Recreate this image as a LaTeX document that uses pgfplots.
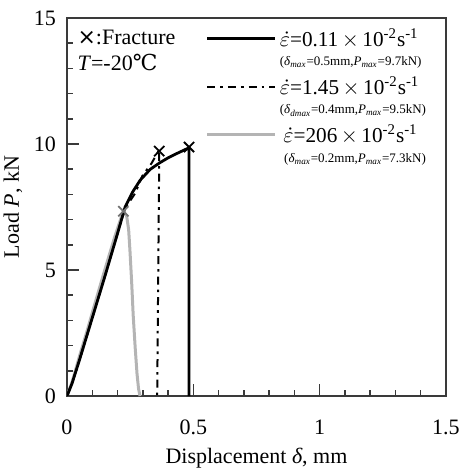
\documentclass[border=0pt]{standalone}
\usepackage{pgfplots}
\pgfplotsset{compat=1.18}
\usepackage{fontspec}
\setmainfont{Liberation Serif}
\newfontfamily\symfont{DejaVu Sans}
\newfontfamily\degfont{DejaVu Serif}

\definecolor{lightcurve}{HTML}{B4B4B4}
\definecolor{framecol}{HTML}{3A3A3A}

\newcommand{\mainfs}{\fontsize{11}{12}\selectfont}
\newcommand{\legfs}{\fontsize{10.6}{12}\selectfont}
\newcommand{\subfs}{\fontsize{6.5}{7.5}\selectfont}

\begin{document}
\begin{tikzpicture}
\begin{axis}[
  name=main,
  scale only axis, width=189.5pt, height=189pt,
  xmin=0, xmax=1.5, ymin=0, ymax=15,
  xtick={0,0.5,1,1.5}, ytick={0,5,10,15},
  minor xtick={0.1,0.2,0.3,0.4,0.6,0.7,0.8,0.9,1.1,1.2,1.3,1.4},
  minor ytick={1,2,3,4,6,7,8,9,11,12,13,14},
  tick align=inside, xtick pos=bottom, ytick pos=left,
  tickwidth=6pt, subtickwidth=3pt,
  axis line style={framecol, line width=0.75pt},
  major tick style={framecol, line width=0.75pt},
  minor tick style={framecol, line width=0.75pt},
  /pgf/number format/assume math mode=true,
  ticklabel style={font=\mainfs},
  xticklabel style={yshift=-8.5pt},
  yticklabel style={xshift=-2pt},
  label style={font=\mainfs},
  xlabel={Displacement \textit{δ}, mm},
  ylabel={Load \textit{P}, kN},
  xlabel style={yshift=0.5pt},
  ylabel style={yshift=-1pt},
  legend image code/.code={\draw[#1] (0pt,0pt) -- (34pt,0pt);},
  legend style={draw=none, fill=none, at={(axis cs:0.548,14.72)}, anchor=north west,
    font=\legfs, row sep=0.8pt, inner sep=0pt,
    nodes={inner sep=1.5pt}},
  legend cell align=left,
]
% legend rows: strain rate on the main line, peak values underneath
\addlegendimage{black, line width=1.4pt}
\addlegendentry{$\dot{\varepsilon}$=0.11\,$\times$\,10\textsuperscript{-2}s\textsuperscript{-1}}
\addlegendimage{empty legend}
\addlegendentry{\subfs(\textit{δ}\textsubscript{\textit{max}}=0.5mm,\textit{P}\textsubscript{\textit{max}}=9.7kN)}
\addlegendimage{black, line width=1pt, dash pattern=on 4pt off 2.5pt on 1.3pt off 2.5pt}
\addlegendentry{$\dot{\varepsilon}$=1.45\,$\times$\,10\textsuperscript{-2}s\textsuperscript{-1}}
\addlegendimage{empty legend}
\addlegendentry{\subfs(\textit{δ}\textsubscript{\textit{dmax}}=0.4mm,\textit{P}\textsubscript{\textit{max}}=9.5kN)}
\addlegendimage{lightcurve, line width=1.5pt}
\addlegendentry{\,$\dot{\varepsilon}$=206\,$\times$\,10\textsuperscript{-2}s\textsuperscript{-1}}
\addlegendimage{empty legend}
\addlegendentry{\subfs\,\,(\textit{δ}\textsubscript{\textit{max}}=0.2mm,\textit{P}\textsubscript{\textit{max}}=7.3kN)}

% 206 x 10^-2 /s
\addplot[forget plot, lightcurve, line width=1.5pt] coordinates {
 (0,0) (0.02,0.55) (0.05,1.6) (0.08,2.6) (0.104,3.44) (0.145,4.85) (0.19,6.35)
 (0.223,7.33) (0.236,7.15) (0.244,6.6) (0.249,5.8) (0.256,4.5) (0.262,3.2)
 (0.27,1.9) (0.277,0.9) (0.283,0.3) (0.289,0)
};
% 1.45 x 10^-2 /s
\addplot[forget plot, black, line width=1pt, dash pattern=on 4pt off 2.5pt on 1.3pt off 2.5pt] coordinates {
 (0,0) (0.02,0.5) (0.05,1.45) (0.1,3.1) (0.15,4.75) (0.2,6.45) (0.23,7.45)
 (0.25,7.75) (0.27,8.05) (0.298,8.73) (0.335,9.24) (0.365,9.77)
 (0.365,9.5) (0.357,0)
};
% 0.11 x 10^-2 /s
\addplot[forget plot, black, line width=1.4pt] coordinates {
 (0,0) (0.02,0.5) (0.05,1.45) (0.1,3.1) (0.15,4.75) (0.2,6.45) (0.23,7.5)
 (0.26,8.1) (0.29,8.57) (0.33,9.0) (0.368,9.26) (0.40,9.45) (0.434,9.62)
 (0.483,9.85) (0.483,0)
};
% fracture points
\addplot[forget plot, only marks, mark=x, mark size=3.6pt, black, line width=0.9pt]
  coordinates {(0.483,9.88) (0.365,9.72)};
\addplot[forget plot, only marks, mark=x, mark size=3.6pt, black!55, line width=0.9pt]
  coordinates {(0.223,7.33)};

\node[anchor=west, font=\mainfs, inner sep=0pt] at (axis cs:0.04,14.24) {{\symfont ×}:Fracture};
\node[anchor=west, font=\mainfs, inner sep=0pt] at (axis cs:0.04,13.24) {\textit{T}=-20{\degfont ℃}};
\end{axis}
% page frame around the axis box
\pgfresetboundingbox
\path[use as bounding box] (main.south west) ++(-33.5pt,-37.5pt) rectangle ++(231.5pt,235.5pt);
\end{tikzpicture}
\end{document}
